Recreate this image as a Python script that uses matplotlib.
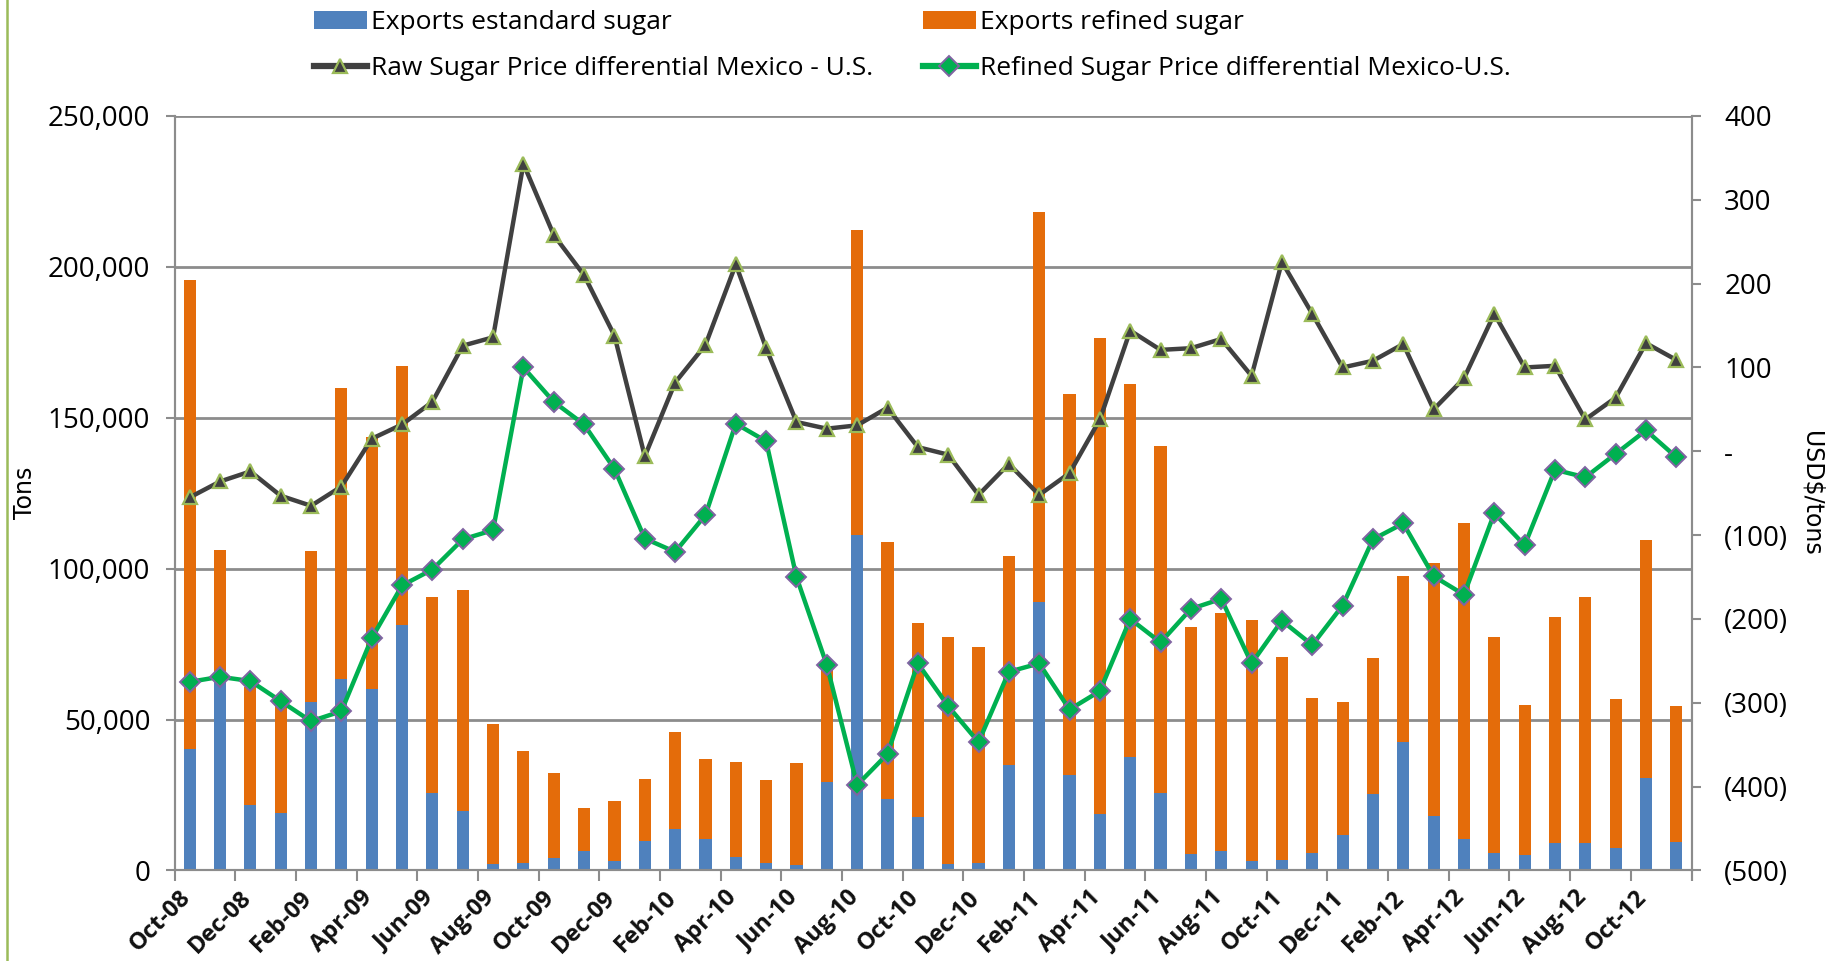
import numpy as np
import matplotlib
matplotlib.use("Agg")
import matplotlib.pyplot as plt
from matplotlib.lines import Line2D
from matplotlib.patches import Patch
from matplotlib.ticker import FuncFormatter, FixedLocator
from matplotlib.transforms import ScaledTranslation

# --- data ---
months = ["Oct-08", "Nov-08", "Dec-08", "Jan-09", "Feb-09", "Mar-09", "Apr-09", "May-09",
          "Jun-09", "Jul-09", "Aug-09", "Sep-09", "Oct-09", "Nov-09", "Dec-09", "Jan-10",
          "Feb-10", "Mar-10", "Apr-10", "May-10", "Jun-10", "Jul-10", "Aug-10", "Sep-10",
          "Oct-10", "Nov-10", "Dec-10", "Jan-11", "Feb-11", "Mar-11", "Apr-11", "May-11",
          "Jun-11", "Jul-11", "Aug-11", "Sep-11", "Oct-11", "Nov-11", "Dec-11", "Jan-12",
          "Feb-12", "Mar-12", "Apr-12", "May-12", "Jun-12", "Jul-12", "Aug-12", "Sep-12",
          "Oct-12", "Nov-12"]

exports_standard = [40300, 65500, 21800, 19000, 55800, 63500, 60200, 81300,
                    25600, 19800, 2000, 2400, 4000, 6600, 3100, 9700,
                    13700, 10500, 4600, 2400, 1800, 29400, 111200, 23800,
                    17800, 2300, 2400, 35100, 89000, 31500, 18600, 37600,
                    25600, 5600, 6300, 3200, 3600, 5700, 11800, 25400,
                    42500, 18000, 10400, 5700, 5100, 9100, 9100, 7400,
                    30800, 9300]

exports_total = [195500, 106200, 60700, 55500, 105700, 159800, 143500, 167300,
                 90700, 93000, 48600, 39700, 32400, 20700, 22900, 30200,
                 45900, 37000, 35900, 30100, 35600, 67500, 212300, 108800,
                 81900, 77300, 74000, 104100, 218100, 157900, 176500, 161300,
                 140700, 80600, 85200, 83000, 70900, 57300, 55800, 70500,
                 97600, 102000, 115200, 77300, 54800, 83900, 90600, 56700,
                 109400, 54400]

exports_refined = [t - s for t, s in zip(exports_total, exports_standard)]

raw_diff = [-55, -36, -24, -53, -65, -42, 15, 32,
            59, 126, 136, 343, 258, 210, 138, -6,
            82, 127, 223, 123, 35, 27, 31, 52,
            5, -4, -52, -15, -52, -26, 38, 144,
            121, 123, 134, 90, 226, 164, 100, 108,
            128, 50, 87, 164, 100, 102, 38, 64,
            129, 109]

refined_diff = [-275, -269, -274, -298, -322, -310, -223, -160,
                -141, -105, -94, 100, 59, 32, -21, -104,
                -120, -76, 33, 12, -150, -255, -398, -361,
                -253, -304, -347, -263, -253, -308, -286, -200,
                -228, -188, -176, -253, -202, -231, -184, -105,
                -86, -149, -171, -74, -112, -22, -31, -3,
                25, -7]

# --- style ---
BLUE = "#4F81BD"
ORANGE = "#E46C0A"
DARK = "#404040"
GREEN = "#00B050"
GRID = "#8C8C8C"
SANS = ["Open Sans", "DejaVu Sans"]

fig = plt.figure(figsize=(18.37, 9.61), dpi=100)
ax = fig.add_axes([0.0950, 0.0942, 0.8258, 0.7851])
ax2 = ax.twinx()

x = np.arange(len(months))

# Barras apiladas
ax.bar(x, exports_standard, width=0.4, color=BLUE, zorder=2)
ax.bar(x, exports_refined, width=0.4, bottom=exports_standard, color=ORANGE, zorder=2)

# Líneas de diferencial de precio (eje derecho)
ax2.plot(x, raw_diff, color=DARK, linewidth=3.2, marker="^", markersize=10,
         markerfacecolor=DARK, markeredgecolor="#9BBB59", markeredgewidth=1.6, zorder=3)
ax2.plot(x, refined_diff, color=GREEN, linewidth=3.2, marker="D", markersize=10,
         markerfacecolor=GREEN, markeredgecolor="#8064A2", markeredgewidth=1.4, zorder=4)

# Eje izquierdo
ax.set_xlim(-0.5, len(months) - 0.5)
ax.set_ylim(0, 250000)
ax.set_yticks(np.arange(0, 250001, 50000))
ax.yaxis.set_major_formatter(FuncFormatter(lambda v, p: f"{int(v):,}"))
ax.grid(axis="y", color=GRID, linewidth=2, zorder=0)
ax.set_axisbelow(True)
for lbl in ax.get_yticklabels():
    lbl.set_fontfamily(SANS)
    lbl.set_fontsize(20)
ax.tick_params(axis="y", length=6.5, width=1.5, color=GRID, pad=11)
ax.set_ylabel("Tons", fontsize=17, family="DejaVu Sans", va="center")
ax.yaxis.set_label_coords(-0.0985, 0.5)

# Eje x: marcas entre categorías cada 2 meses, etiquetas en el centro
ax.xaxis.set_major_locator(FixedLocator(list(np.arange(-0.5, len(months), 2)) + [len(months) - 0.5]))
ax.xaxis.set_minor_locator(FixedLocator(x[::2]))
ax.set_xticklabels([], minor=False)
ax.set_xticklabels(months[::2], minor=True, rotation=45, ha="right",
                   rotation_mode="anchor", fontsize=17, fontweight="bold",
                   family=SANS, color="#111111")
ax.tick_params(axis="x", which="major", length=8, width=1.5, color=GRID)
ax.tick_params(axis="x", which="minor", length=0, pad=11)
# desplazar etiquetas un poco a la izquierda, como en Excel
shift = ScaledTranslation(-0.11, 0, fig.dpi_scale_trans)
for lbl in ax.get_xticklabels(minor=True):
    lbl.set_transform(lbl.get_transform() + shift)

# Eje derecho
ax2.set_ylim(-500, 400)
ax2.set_yticks(np.arange(-500, 401, 100))


def fmt_usd(v, p):
    if v > 0:
        return f"{int(v)}"
    if v == 0:
        return "-"
    return f"({int(-v)})"


ax2.yaxis.set_major_formatter(FuncFormatter(fmt_usd))
for lbl in ax2.get_yticklabels():
    lbl.set_fontfamily(SANS)
    lbl.set_fontsize(20)
ax2.tick_params(axis="y", length=6.5, width=1.5, color=GRID, pad=17)
ax2.set_ylabel("USD$/tons", fontsize=17, family="DejaVu Sans", rotation=270, va="center")
ax2.yaxis.set_label_coords(1.0792, 0.5)

for a in (ax, ax2):
    a.spines["top"].set_visible(False)
    for s in ("left", "right", "bottom"):
        a.spines[s].set_color(GRID)
        a.spines[s].set_linewidth(1.5)

# Leyenda
handles = [
    Patch(facecolor=BLUE),
    Line2D([0], [0], color=DARK, linewidth=4.5, marker="^", markersize=10,
           markerfacecolor=DARK, markeredgecolor="#9BBB59", markeredgewidth=1.6),
    Patch(facecolor=ORANGE),
    Line2D([0], [0], color=GREEN, linewidth=4.5, marker="D", markersize=10,
           markerfacecolor=GREEN, markeredgecolor="#8064A2", markeredgewidth=1.4),
]
labels = ["Exports estandard sugar", "Raw Sugar Price differential Mexico - U.S.",
          "Exports refined sugar", "Refined Sugar Price differential Mexico-U.S."]
fig.legend(handles, labels, ncol=2, loc="upper left", bbox_to_anchor=(0.158, 1.014),
           frameon=False, prop={"family": SANS, "size": 19},
           handlelength=2.0, handletextpad=0.15, columnspacing=1.9, labelspacing=0.8)

# Borde verde a la izquierda
fig.add_artist(Line2D([0.004, 0.004], [0, 1], transform=fig.transFigure,
                      color="#9BBB59", linewidth=1.8))

fig.savefig("out.png", dpi=100)
